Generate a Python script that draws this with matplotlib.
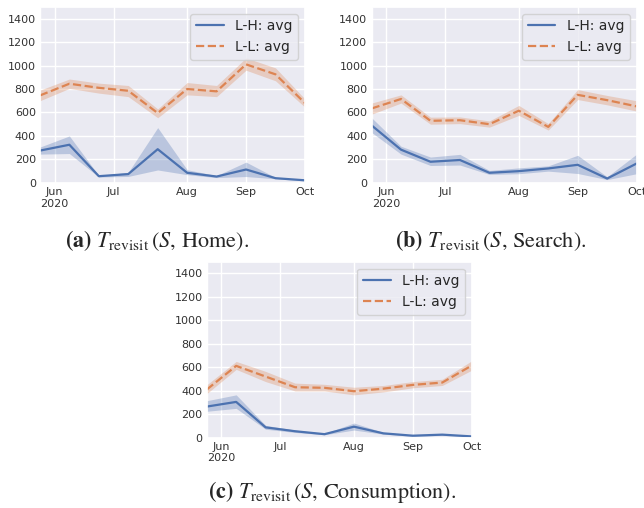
import matplotlib
matplotlib.use('Agg')
import matplotlib.pyplot as plt
import pandas as pd
import seaborn as sns

sns.set_theme(style='darkgrid')
plt.rcParams['font.family'] = ['DejaVu Sans']
plt.rcParams['mathtext.fontset'] = 'stix'
pd.plotting.register_matplotlib_converters()

# Biweekly sampling points (pandas time-series axis, weeks ending Thursday)
dates = pd.date_range('2020-05-28', periods=10, freq='2W-THU')

# (a) Home
home_lh = [275, 325, 57, 75, 287, 86, 54, 114, 40, 22]
home_lh_lo = [245, 250, 50, 55, 110, 70, 45, 54, 35, 17]
home_lh_hi = [305, 400, 62, 90, 471, 112, 62, 177, 46, 27]
home_ll = [745, 845, 810, 785, 595, 800, 780, 1010, 925, 680]
home_ll_lo = [700, 805, 765, 735, 555, 750, 735, 960, 870, 645]
home_ll_hi = [790, 885, 850, 830, 630, 855, 830, 1065, 980, 715]

# (b) Search
search_lh = [490, 283, 180, 195, 86, 100, 123, 154, 37, 165]
search_lh_lo = [430, 245, 148, 152, 72, 78, 100, 80, 28, 78]
search_lh_hi = [555, 312, 220, 243, 106, 128, 145, 235, 52, 245]
search_ll = [634, 715, 529, 534, 500, 615, 477, 750, 705, 652]
search_ll_lo = [585, 680, 500, 505, 475, 575, 450, 710, 665, 612]
search_ll_hi = [680, 750, 560, 562, 528, 660, 505, 795, 745, 700]

# (c) Consumption
cons_lh = [265, 305, 88, 55, 30, 94, 37, 17, 26, 11]
cons_lh_lo = [225, 250, 72, 45, 25, 65, 30, 12, 20, 8]
cons_lh_hi = [315, 365, 105, 65, 36, 125, 45, 22, 32, 15]
cons_ll = [410, 612, 521, 430, 425, 396, 418, 450, 470, 615]
cons_ll_lo = [375, 582, 478, 398, 398, 365, 390, 425, 445, 575]
cons_ll_hi = [450, 650, 565, 465, 455, 430, 445, 478, 498, 655]

captions = [
    r'$\mathbf{(a)}\ T_{\mathrm{revisit}}\,(S,\,\mathrm{Home}).$',
    r'$\mathbf{(b)}\ T_{\mathrm{revisit}}\,(S,\,\mathrm{Search}).$',
    r'$\mathbf{(c)}\ T_{\mathrm{revisit}}\,(S,\,\mathrm{Consumption}).$',
]

blue = '#4c72b0'
orange = '#dd8452'

fig = plt.figure(figsize=(6.44, 5.08), dpi=100)


def draw_panel(rect, lh, lh_lo, lh_hi, ll, ll_lo, ll_hi):
    ax = fig.add_axes(rect)
    df = pd.DataFrame({'L-H: avg': lh, 'L-L: avg': ll}, index=dates)
    df.plot(ax=ax, style=['-', '--'], color=[blue, orange], lw=1.6, legend=False)
    pidx = dates.to_period('W-THU')
    ax.fill_between(pidx, lh_lo, lh_hi, color=blue, alpha=0.3, lw=0)
    ax.fill_between(pidx, ll_lo, ll_hi, color=orange, alpha=0.3, lw=0)
    ax.set_ylim(0, 1500)
    ax.set_yticks(range(0, 1401, 200))
    ax.set_xlabel('')
    ax.tick_params(axis='both', which='both', length=0, labelsize=8,
                   colors='.2', pad=3)
    ax.legend(loc='upper right', fontsize=10)
    return ax


draw_panel([0.062, 0.640, 0.4115, 0.3465], home_lh, home_lh_lo, home_lh_hi,
           home_ll, home_ll_lo, home_ll_hi)
draw_panel([0.577, 0.640, 0.4115, 0.3465], search_lh, search_lh_lo, search_lh_hi,
           search_ll, search_ll_lo, search_ll_hi)
draw_panel([0.321, 0.1384, 0.4115, 0.3465], cons_lh, cons_lh_lo, cons_lh_hi,
           cons_ll, cons_ll_lo, cons_ll_hi)

fig.text(0.2446, 0.526, captions[0], ha='center', va='center', fontsize=16)
fig.text(0.7624, 0.526, captions[1], ha='center', va='center', fontsize=16)
fig.text(0.5155, 0.0315, captions[2], ha='center', va='center', fontsize=16)

fig.savefig('out.png', dpi=100, facecolor='white')
